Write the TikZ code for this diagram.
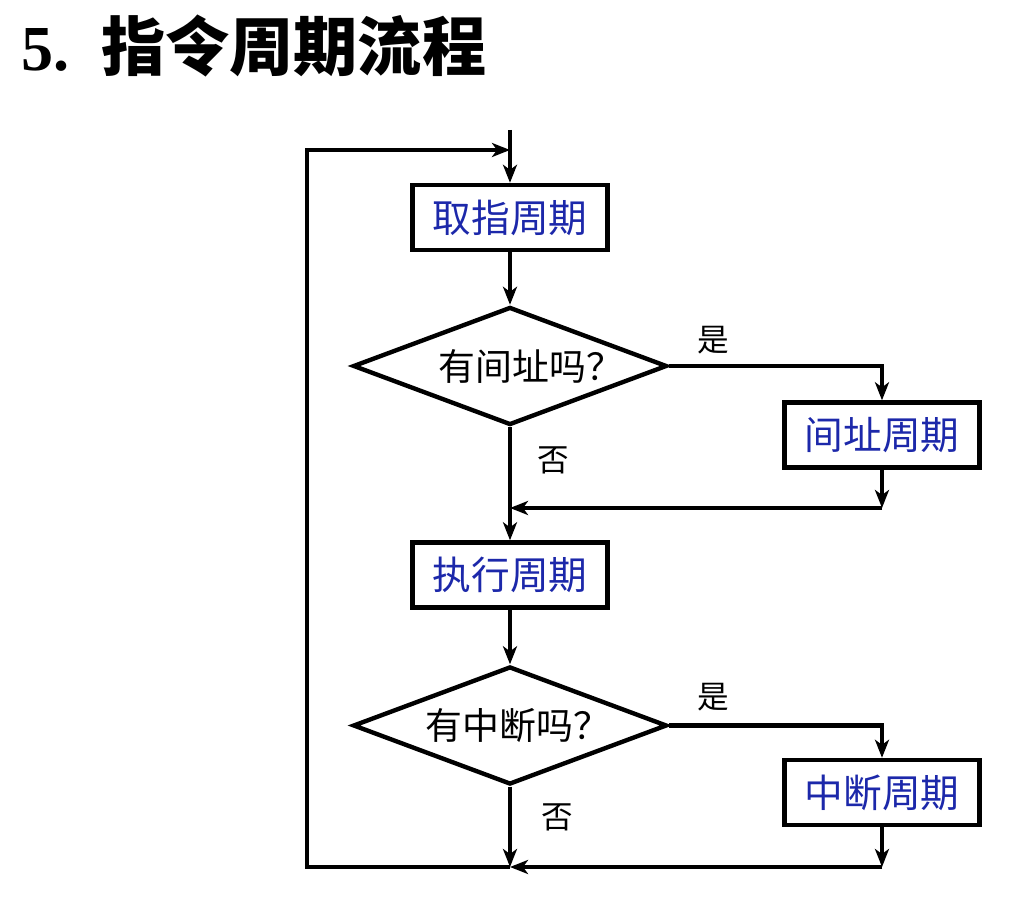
\documentclass[tikz,border=0pt]{standalone}
\usepackage{fontspec}
\setmainfont{Liberation Serif}
\newfontfamily\cjk{Noto Sans CJK SC}
\usetikzlibrary{shapes.geometric, positioning, arrows.meta}
\definecolor{cycblue}{RGB}{28,40,170}

\begin{document}
\begin{tikzpicture}[
  cycbox/.style={rectangle, draw, line width=2.5pt, minimum width=3.9cm, minimum height=1.3cm,
    inner sep=0pt, font=\cjk\fontsize{22}{24}\selectfont, text=cycblue},
  decision/.style={diamond, draw, line width=2.5pt, minimum width=6.28cm, minimum height=2.36cm,
    inner sep=0pt},
  asktext/.style={font=\cjk\fontsize{21}{24}\selectfont},
  yesno/.style={font=\cjk\fontsize{18}{20}\selectfont},
  arr/.style={line width=2.5pt, -{Stealth[length=3.6mm, width=2.8mm, inset=1mm]}},
  plain/.style={line width=2.5pt}
]
  \useasboundingbox (0,0) rectangle (20.28,-17.96);

  % Nadpis
  \node[anchor=west, font=\bfseries\fontsize{36.5}{40}\selectfont] (title) at (0.3,-0.92)
    {5.\hspace{0.5em}{\cjk\bfseries 指令周期流程}};

  % Hlavni sloupec
  \coordinate (top) at (10.2,-2.6);
  \node[cycbox] (fetch) at (10.2,-4.35) {取指周期};
  \node[decision] (ind) at (10.2,-7.32) {};
  \node[asktext] (indq) at (10.62,-7.32) {有间址吗？};
  \node[cycbox] (exec) at (10.2,-11.5) {执行周期};
  \node[decision] (irq) at (10.2,-14.51) {};
  \node[asktext] (irqq) at (10.36,-14.51) {有中断吗？};

  % Prava vetev
  \node[cycbox] (indc) at (17.64,-8.7) {间址周期};
  \node[cycbox] (irqc) at (17.64,-15.85) {中断周期};

  % Body spojeni
  \coordinate (m1) at (10.2,-10.16);
  \coordinate (m1r) at (17.64,-10.16);
  \coordinate (m2) at (10.2,-17.34);
  \coordinate (m2r) at (17.64,-17.34);
  \coordinate (loop) at (6.14,-3.0);
  \coordinate (in) at (10.2,-3.0);

  \draw[arr] (top) -- (fetch);
  \draw[arr] (fetch) -- (ind);
  \draw[arr] (ind.east) -| (indc);
  \draw[arr] (indc) -- (m1r);
  \draw[arr] (m1r) -- (m1);
  \draw[arr] (ind) -- (exec);
  \draw[arr] (exec) -- (irq);
  \draw[arr] (irq.east) -| (irqc);
  \draw[arr] (irqc) -- (m2r);
  \draw[arr] (m2r) -- (m2);
  \draw[arr] (irq) -- (m2);
  \draw[arr] (m2) -| (loop) -- (in);

  % Popisky
  \node[yesno] (y1) at (14.26,-6.8) {是};
  \node[yesno] (n1) at (11.06,-9.2) {否};
  \node[yesno] (y2) at (14.26,-13.94) {是};
  \node[yesno] (n2) at (11.14,-16.34) {否};
\end{tikzpicture}
\end{document}
